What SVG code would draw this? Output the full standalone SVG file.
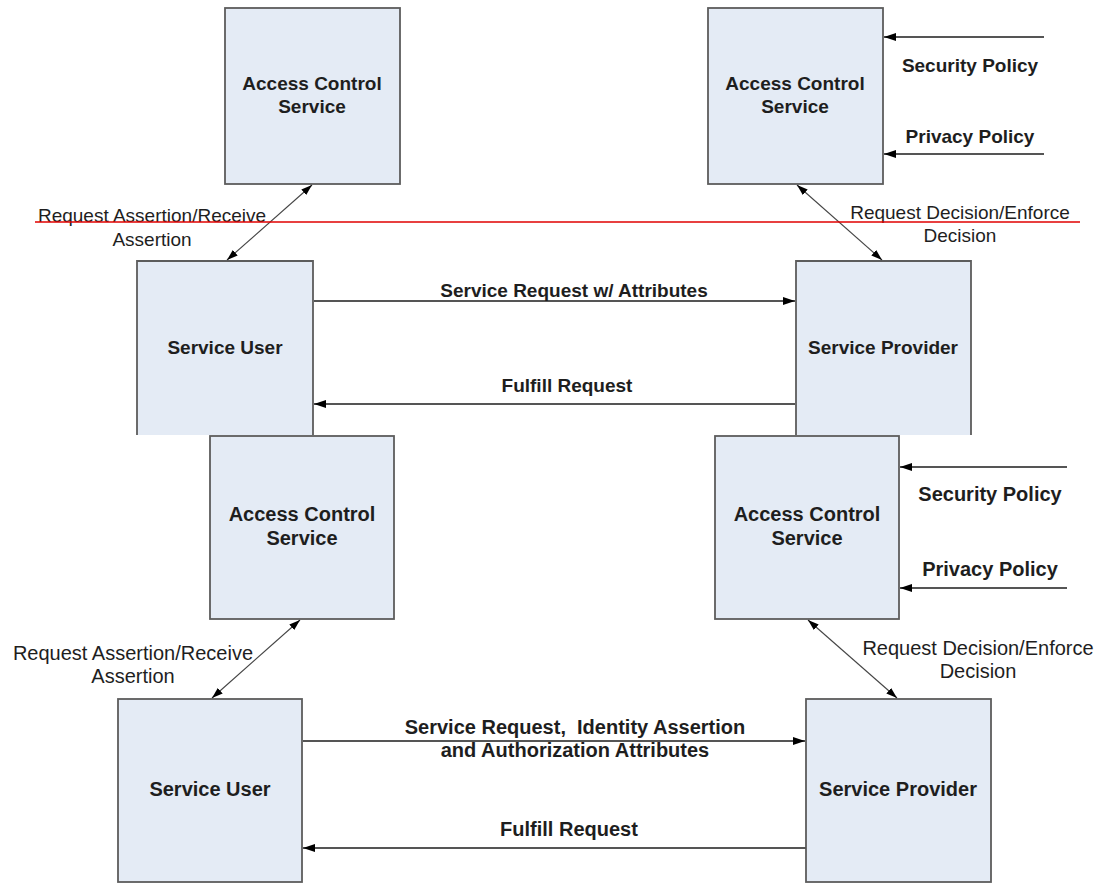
<svg xmlns="http://www.w3.org/2000/svg" width="1100" height="884" viewBox="0 0 1100 884">
<style>
.box{fill:#e4ebf5;stroke:#5c5c5c;stroke-width:1.8}
.fill{fill:#e4ebf5;stroke:none}
.edge{fill:none;stroke:#5c5c5c;stroke-width:1.8}
.conn{fill:none;stroke:#555;stroke-width:1.8}
.diag{fill:none;stroke:#444;stroke-width:1.1}
.t{font-family:"Liberation Sans",Arial,sans-serif;fill:#1e1e1e;text-anchor:middle}
.b{font-weight:bold}
.s19{font-size:19px}
.s20{font-size:20px}
</style>
<defs>
<marker id="ah" viewBox="0 0 12 8" refX="12" refY="4" markerWidth="12" markerHeight="8" markerUnits="userSpaceOnUse" orient="auto-start-reverse">
<path d="M0,0 L12,4 L0,8 z" fill="#000"/>
</marker>
<marker id="ahs" viewBox="0 0 12 8" refX="12" refY="4" markerWidth="11" markerHeight="8" markerUnits="userSpaceOnUse" orient="auto-start-reverse">
<path d="M0,0 L12,4 L0,8 z" fill="#000"/>
</marker>
</defs>
<rect width="1100" height="884" fill="#fff"/>

<!-- Top half -->
<g id="acs-top-left">
<rect class="box" x="225" y="8" width="175" height="176"/>
<text class="t b s19" x="312" y="90">Access Control</text>
<text class="t b s19" x="312" y="113">Service</text>
</g>
<g id="acs-top-right">
<rect class="box" x="708" y="8" width="175" height="176"/>
<text class="t b s19" x="795" y="90">Access Control</text>
<text class="t b s19" x="795" y="113">Service</text>
</g>
<g id="user-top">
<rect class="fill" x="137" y="261" width="176" height="174"/>
<path class="edge" d="M137,435 V261 H313 V435"/>
<text class="t b s19" x="225" y="354">Service User</text>
</g>
<g id="provider-top">
<rect class="fill" x="796" y="261" width="175" height="174"/>
<path class="edge" d="M796,435 V261 H971 V435"/>
<text class="t b s19" x="883" y="354">Service Provider</text>
</g>

<!-- Bottom half -->
<g id="acs-bottom-left">
<rect class="box" x="210" y="436" width="184" height="183"/>
<text class="t b s20" x="302" y="521">Access Control</text>
<text class="t b s20" x="302" y="545">Service</text>
</g>
<g id="acs-bottom-right">
<rect class="box" x="715" y="436" width="184" height="183"/>
<text class="t b s20" x="807" y="521">Access Control</text>
<text class="t b s20" x="807" y="545">Service</text>
</g>
<g id="user-bottom">
<rect class="box" x="118" y="699" width="184" height="183"/>
<text class="t b s20" x="210" y="796">Service User</text>
</g>
<g id="provider-bottom">
<rect class="box" x="806" y="699" width="185" height="183"/>
<text class="t b s20" x="898" y="796">Service Provider</text>
</g>

<g id="connectors">
<!-- top half -->
<line class="diag" x1="312" y1="185" x2="227" y2="260" marker-start="url(#ahs)" marker-end="url(#ahs)"/>
<line class="diag" x1="797" y1="185" x2="882" y2="260" marker-start="url(#ahs)" marker-end="url(#ahs)"/>
<line class="conn" x1="1044" y1="37" x2="884" y2="37" marker-end="url(#ah)"/>
<line class="conn" x1="1044" y1="154" x2="884" y2="154" marker-end="url(#ah)"/>
<line class="conn" x1="314" y1="301" x2="795" y2="301" marker-end="url(#ah)"/>
<line class="conn" x1="795" y1="404" x2="314" y2="404" marker-end="url(#ah)"/>
<!-- bottom half -->
<line class="diag" x1="300" y1="620" x2="212" y2="698" marker-start="url(#ahs)" marker-end="url(#ahs)"/>
<line class="diag" x1="808" y1="620" x2="897" y2="698" marker-start="url(#ahs)" marker-end="url(#ahs)"/>
<line class="conn" x1="1067" y1="467" x2="900" y2="467" marker-end="url(#ah)"/>
<line class="conn" x1="1067" y1="588" x2="900" y2="588" marker-end="url(#ah)"/>
<line class="conn" x1="303" y1="741" x2="805" y2="741" marker-end="url(#ah)"/>
<line class="conn" x1="806" y1="848" x2="303" y2="848" marker-end="url(#ah)"/>
</g>

<g id="labels">
<text class="t s19" x="152" y="222">Request Assertion/Receive</text>
<text class="t s19" x="152" y="246">Assertion</text>
<text class="t s19" x="960" y="219">Request Decision/Enforce</text>
<text class="t s19" x="960" y="242">Decision</text>
<text class="t b s19" x="970" y="72">Security Policy</text>
<text class="t b s19" x="970" y="143">Privacy Policy</text>
<text class="t b s19" x="574" y="297">Service Request w/ Attributes</text>
<text class="t b s19" x="567" y="392">Fulfill Request</text>

<text class="t s20" x="133" y="660">Request Assertion/Receive</text>
<text class="t s20" x="133" y="683">Assertion</text>
<text class="t s20" x="978" y="655">Request Decision/Enforce</text>
<text class="t s20" x="978" y="678">Decision</text>
<text class="t b s20" x="990" y="501">Security Policy</text>
<text class="t b s20" x="990" y="576">Privacy Policy</text>
<text class="t b s20" x="575" y="734" xml:space="preserve">Service Request,  Identity Assertion</text>
<text class="t b s20" x="575" y="757">and Authorization Attributes</text>
<text class="t b s20" x="569" y="836">Fulfill Request</text>
</g>

<line id="red-rule" x1="35" y1="222" x2="1080" y2="222" stroke="#e00000" stroke-width="1.6"/>
</svg>
